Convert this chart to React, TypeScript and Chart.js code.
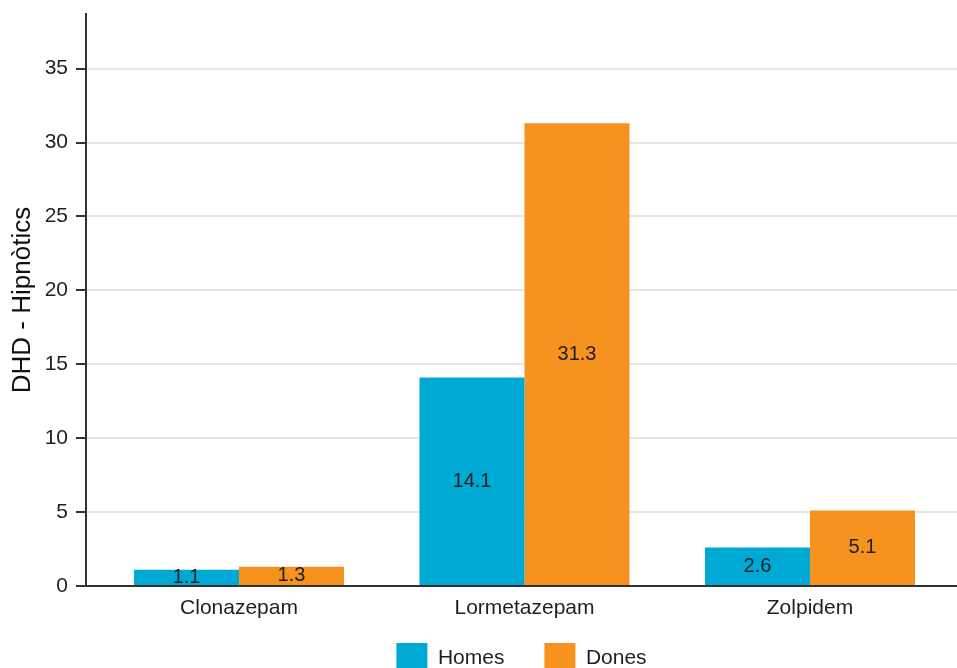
import React, { useEffect, useRef } from 'react';
import { Chart, registerables } from 'chart.js';

Chart.register(...registerables);

const categories = ['Clonazepam', 'Lormetazepam', 'Zolpidem'];
const seriesNames = ['Homes', 'Dones'];
const homesValues = [1.1, 14.1, 2.6];
const donesValues = [1.3, 31.3, 5.1];
const yTickValues = [0, 5, 10, 15, 20, 25, 30, 35];
const yMax = 38.7;
const yTitle = 'DHD - Hipnòtics';

const FONT = "'Liberation Sans', Arial, sans-serif";
const TEXT = '#1f1f1f';
const COLORS = ['#00A9D4', '#F6921E'];

const barLabels = {
  id: 'barLabels',
  afterDatasetsDraw(chart: any) {
    const ctx = chart.ctx;
    ctx.save();
    ctx.font = `20px ${FONT}`;
    ctx.fillStyle = TEXT;
    ctx.textAlign = 'center';
    ctx.textBaseline = 'middle';
    chart.data.datasets.forEach((ds: any, di: number) => {
      const meta = chart.getDatasetMeta(di);
      meta.data.forEach((el: any, i: number) => {
        const { x, y, base } = el.getProps(['x', 'y', 'base'], true);
        const v = ds.data[i].y;
        ctx.fillText(v.toFixed(1), x, (y + base) / 2);
      });
    });
    ctx.restore();
  },
};

export default function App() {
  const ref = useRef<HTMLCanvasElement | null>(null);

  useEffect(() => {
    if (!ref.current) return;
    const series = [homesValues, donesValues];
    const chart = new Chart(ref.current, {
      type: 'bar',
      data: {
        datasets: series.map((vals, si) => ({
          label: seriesNames[si],
          data: vals.map((v, i) => ({ x: i, y: v })),
          backgroundColor: COLORS[si],
          borderColor: COLORS[si],
          borderWidth: 0,
          categoryPercentage: 0.7356,
          barPercentage: 1,
        })),
      },
      options: {
        animation: false,
        responsive: false,
        devicePixelRatio: 1,
        layout: { padding: { top: 14, left: 0, right: 0, bottom: 0 } },
        plugins: {
          tooltip: { enabled: false },
          legend: {
            position: 'bottom',
            fullSize: false,
            labels: {
              boxWidth: 31,
              boxHeight: 31,
              padding: 40,
              color: TEXT,
              font: { family: FONT, size: 21 },
            },
          },
        },
        scales: {
          x: {
            type: 'linear',
            min: -0.536,
            max: 2.515,
            offset: false,
            grid: { display: false, drawTicks: false, offset: false },
            border: { display: true, color: '#333333', width: 2 },
            afterBuildTicks: (scale: any) => {
              scale.ticks = categories.map((_, i) => ({ value: i }));
            },
            afterFit: (scale: any) => {
              scale.height = 17;
              scale.paddingLeft = 0;
              scale.paddingRight = 0;
              // let the category labels extend below the (short) axis box
              scale._computeLabelArea = () => undefined;
            },
            ticks: {
              autoSkip: false,
              maxRotation: 0,
              minRotation: 0,
              padding: 10,
              color: TEXT,
              font: { family: FONT, size: 21 },
              callback: (v: any) => categories[v] ?? '',
            },
          },
          y: {
            type: 'linear',
            min: 0,
            max: yMax,
            afterBuildTicks: (scale: any) => {
              scale.ticks = yTickValues.map((v) => ({ value: v }));
            },
            afterFit: (scale: any) => {
              scale.width = 86;
              scale.paddingTop = 0;
              scale.paddingBottom = 0;
            },
            grid: {
              color: '#E6E6E6',
              lineWidth: 2,
              tickColor: '#333333',
              tickWidth: 2,
              tickLength: 10,
            },
            border: { display: true, color: '#333333', width: 2 },
            ticks: {
              padding: 8,
              color: TEXT,
              font: { family: FONT, size: 21 },
            },
            title: {
              display: true,
              text: yTitle,
              color: '#111111',
              font: { family: FONT, size: 26 },
              padding: { top: 7, bottom: 0 },
            },
          },
        },
      },
      plugins: [barLabels],
    } as any);
    return () => chart.destroy();
  }, []);

  return (
    <div
      style={{
        position: 'fixed',
        left: 0,
        top: 0,
        width: 957,
        height: 668,
        overflow: 'hidden',
        background: '#ffffff',
      }}
    >
      <canvas ref={ref} width={957} height={684} style={{ display: 'block' }} />
    </div>
  );
}
